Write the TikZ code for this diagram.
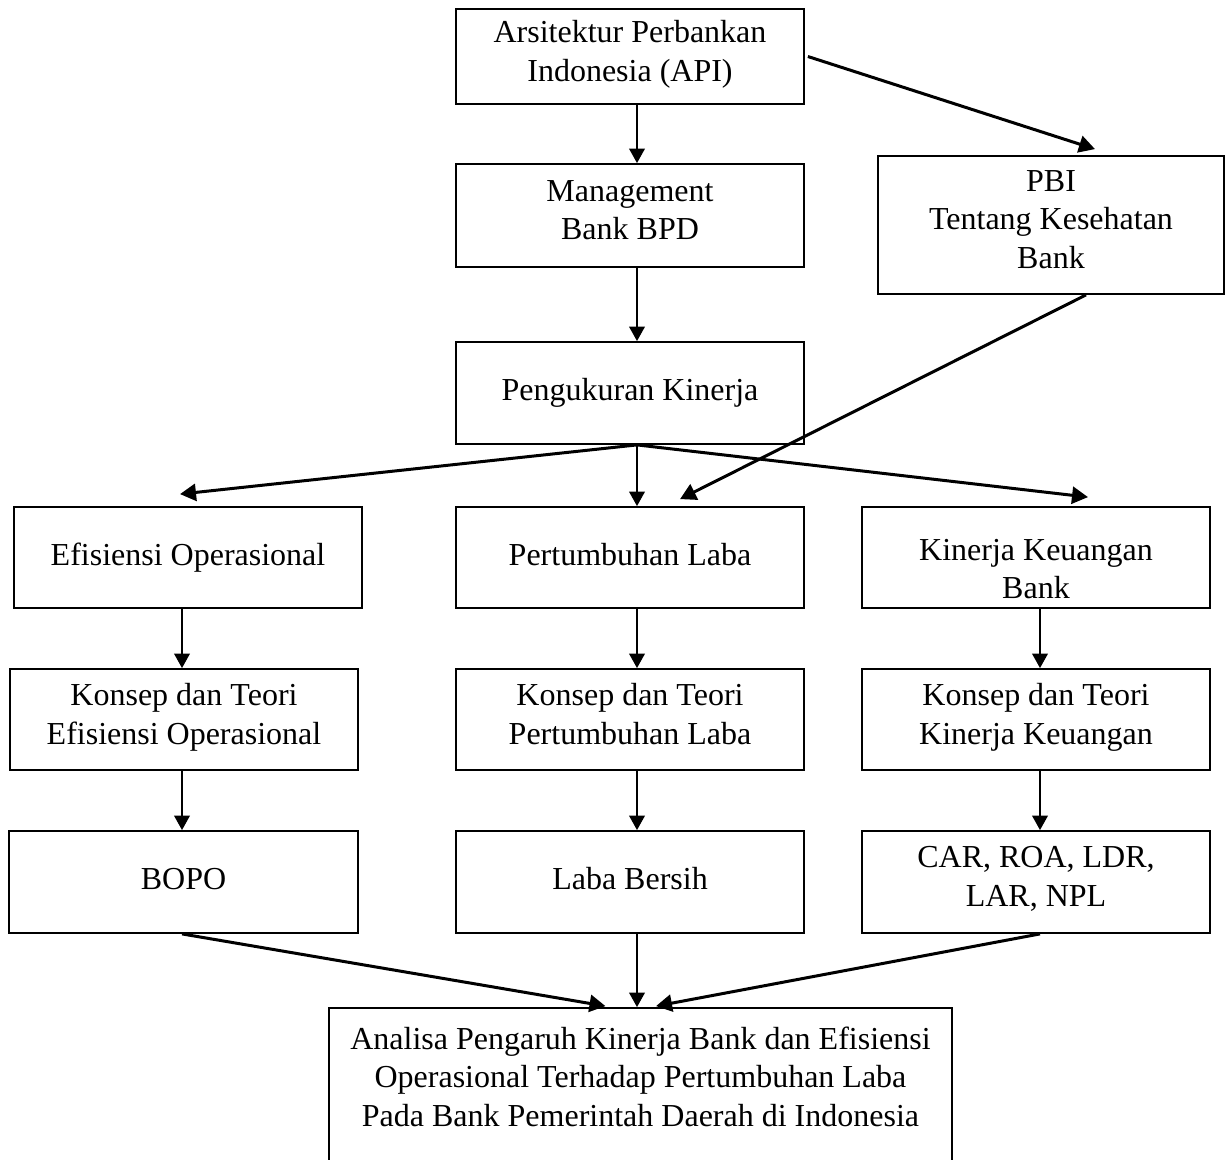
\documentclass[tikz,border=0pt]{standalone}
\usepackage{fontspec}
\setmainfont{Liberation Serif}
\usetikzlibrary{arrows.meta}
\newcommand\capstrut{\rule[-11pt]{0pt}{37pt}}
\begin{document}
\begin{tikzpicture}[x=1pt,y=-1pt,
  box/.style={draw, line width=1.8pt, inner sep=0pt, align=center, font=\fontsize{32}{38.5}\selectfont,
    execute at begin node=\capstrut, execute at end node=\capstrut},
  lbl/.style={inner sep=0pt, align=center, font=\fontsize{32}{38.5}\selectfont,
    execute at begin node=\capstrut, execute at end node=\capstrut},
  arr/.style={-{Triangle[length=14.5pt,width=15.5pt]}, line width=2.2pt},
  darr/.style={-{Triangle[length=16pt,width=17pt]}, line width=3pt}]
\useasboundingbox (0,0) rectangle (1225,1159);
\clip (0,0) rectangle (1225,1159);

\node[box, minimum width=348pt, minimum height=95pt]  (api)  at (630,56.5)   {Arsitektur Perbankan\\Indonesia (API)};
\node[box, minimum width=348pt, minimum height=103pt] (mgmt) at (630,215.5)  {Management\\Bank BPD};
\node[box, minimum width=346pt, minimum height=138pt] (pbi)  at (1051,225)   {PBI\\Tentang Kesehatan\\Bank};
\node[box, minimum width=348pt, minimum height=102pt] (peng) at (630,393)    {Pengukuran Kinerja};
\node[box, minimum width=348pt, minimum height=101pt] (efi)  at (188,557.5)  {Efisiensi Operasional};
\node[box, minimum width=348pt, minimum height=101pt] (pert) at (630,557.5)  {Pertumbuhan Laba};
\node[box, minimum width=348pt, minimum height=101pt] (kin)  at (1036,557.5) {};
\node[lbl] (kint) at (1036,574.5) {Kinerja Keuangan\\Bank};
\node[box, minimum width=348pt, minimum height=101pt] (ke)   at (184,719.5)  {Konsep dan Teori\\Efisiensi Operasional};
\node[box, minimum width=348pt, minimum height=101pt] (kp)   at (630,719.5)  {Konsep dan Teori\\Pertumbuhan Laba};
\node[box, minimum width=348pt, minimum height=101pt] (kk)   at (1036,719.5) {Konsep dan Teori\\Kinerja Keuangan};
\node[box, minimum width=349pt, minimum height=102pt] (bopo) at (183.5,882)  {BOPO};
\node[box, minimum width=348pt, minimum height=102pt] (laba) at (630,882)    {Laba Bersih};
\node[box, minimum width=348pt, minimum height=102pt] (car)  at (1036,882)   {CAR, ROA, LDR,\\LAR, NPL};
\node[box, minimum width=623pt, minimum height=192pt] (ana)  at (640.5,1104) {};
\node[lbl] (anat) at (640.5,1082) {Analisa Pengaruh Kinerja Bank dan Efisiensi\\Operasional Terhadap Pertumbuhan Laba\\Pada Bank Pemerintah Daerah di Indonesia};

\draw[arr]  ([xshift=7pt]api.south) -- ([xshift=7pt]mgmt.north);
\draw[arr]  ([xshift=7pt]mgmt.south) -- ([xshift=7pt]peng.north);
\draw[darr] ([xshift=3pt]api.east) -- ([xshift=44pt,yshift=6pt]pbi.north);
\draw[darr] ([xshift=35pt]pbi.south) -- ([xshift=50pt,yshift=7pt]pert.north);
\draw[darr] ([xshift=7pt]peng.south) -- ([xshift=-8pt,yshift=12pt]efi.north);
\draw[arr]  ([xshift=7pt]peng.south) -- ([xshift=7pt]pert.north);
\draw[darr] ([xshift=7pt]peng.south) -- ([xshift=52pt,yshift=9pt]kin.north);
\draw[arr]  ([xshift=-6pt]efi.south) -- ([xshift=-2pt]ke.north);
\draw[arr]  ([xshift=7pt]pert.south) -- ([xshift=7pt]kp.north);
\draw[arr]  ([xshift=4pt]kin.south) -- ([xshift=4pt]kk.north);
\draw[arr]  ([xshift=-2pt]ke.south) -- ([xshift=-1.5pt]bopo.north);
\draw[arr]  ([xshift=7pt]kp.south) -- ([xshift=7pt]laba.north);
\draw[arr]  ([xshift=4pt]kk.south) -- ([xshift=4pt]car.north);
\draw[darr] ([xshift=-1.5pt]bopo.south) -- ([xshift=-35pt,yshift=1pt]ana.north);
\draw[arr]  ([xshift=7pt]laba.south) -- ([xshift=-3.5pt]ana.north);
\draw[darr] ([xshift=4pt]car.south) -- ([xshift=15.5pt,yshift=1pt]ana.north);
\end{tikzpicture}
\end{document}
